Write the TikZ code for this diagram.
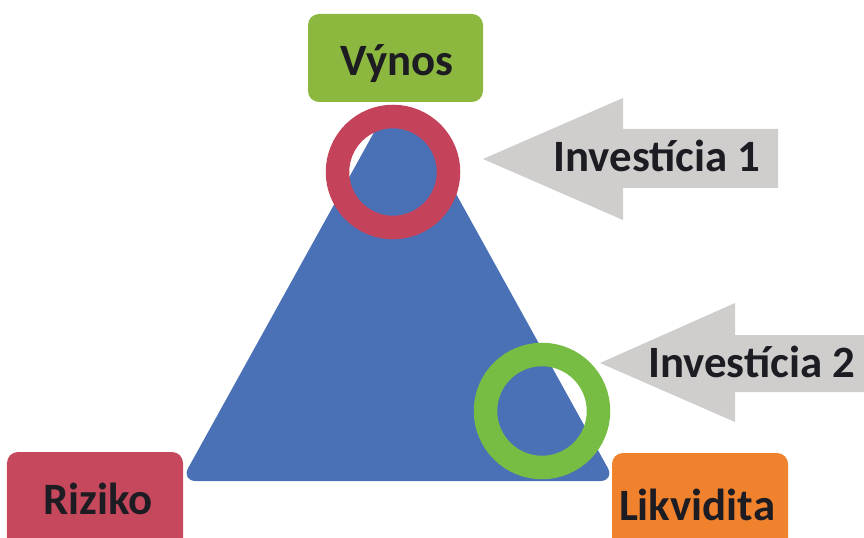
\documentclass[tikz,border=0pt]{standalone}
\usepackage{fontspec}
\setmainfont{Carlito}
\definecolor{triblue}{HTML}{4A70B6}
\definecolor{ringred}{HTML}{C4425A}
\definecolor{boxred}{HTML}{C6485D}
\definecolor{ringgreen}{HTML}{77BC43}
\definecolor{boxgreen}{HTML}{8DB83F}
\definecolor{boxorange}{HTML}{F0822E}
\definecolor{arrowgray}{HTML}{D0CDCD}
\definecolor{txt}{HTML}{1C1C22}
\begin{document}
\begin{tikzpicture}[x=1bp,y=-1bp,
  box/.style={fill=#1, rounded corners=11bp, draw=none, inner sep=0pt},
  lbl/.style={font=\fontsize{45}{52}\selectfont\bfseries, text=txt, inner sep=0pt},
  ring/.style={draw=#1, line width=23.5bp, circle, inner sep=0pt},
  bigarrow/.style={fill=arrowgray}]
\useasboundingbox (0,0) rectangle (864,538);
% triangle
\coordinate (apex) at (398,89);
\coordinate (bl) at (181,481);
\coordinate (br) at (615,481);
\coordinate (bm) at (398,481);
\fill[triblue] (bm) [rounded corners=15bp] -- (br) [rounded corners=38bp] -- (apex) [rounded corners=15bp] -- (bl) -- cycle;
% rings
\node[ring=ringred, minimum size=111bp] (ring1) at (393,172) {};
\node[ring=ringgreen, minimum size=113bp] (ring2) at (542,411) {};
% arrows
\fill[bigarrow] (483,159) -- (623,98) -- (623,129) -- (778,129) -- (778,188) -- (623,188) -- (623,220) -- cycle;
\fill[bigarrow] (600,363) -- (735,303) -- (735,335) -- (880,335) -- (880,392) -- (735,392) -- (735,422) -- cycle;
\node[lbl, anchor=base] (inv1) at (657,172) {Investícia 1};
\node[lbl, anchor=base west] (inv2) at (648,377) {Investícia 2};
% boxes
\node[box=boxgreen, minimum width=175bp, minimum height=88bp] (vynosbox) at (395.5,58) {};
\node[lbl, anchor=base] (vynos) at (397,76) {Výnos};
\node[box=boxred, minimum width=176bp, minimum height=100bp] (rizikobox) at (95,502) {};
\node[lbl, anchor=base] (riziko) at (98,514) {Riziko};
\node[box=boxorange, minimum width=176bp, minimum height=100bp] (likvbox) at (700,503) {};
\node[lbl, anchor=base] (likv) at (697,520) {Likvidita};
\end{tikzpicture}
\end{document}
